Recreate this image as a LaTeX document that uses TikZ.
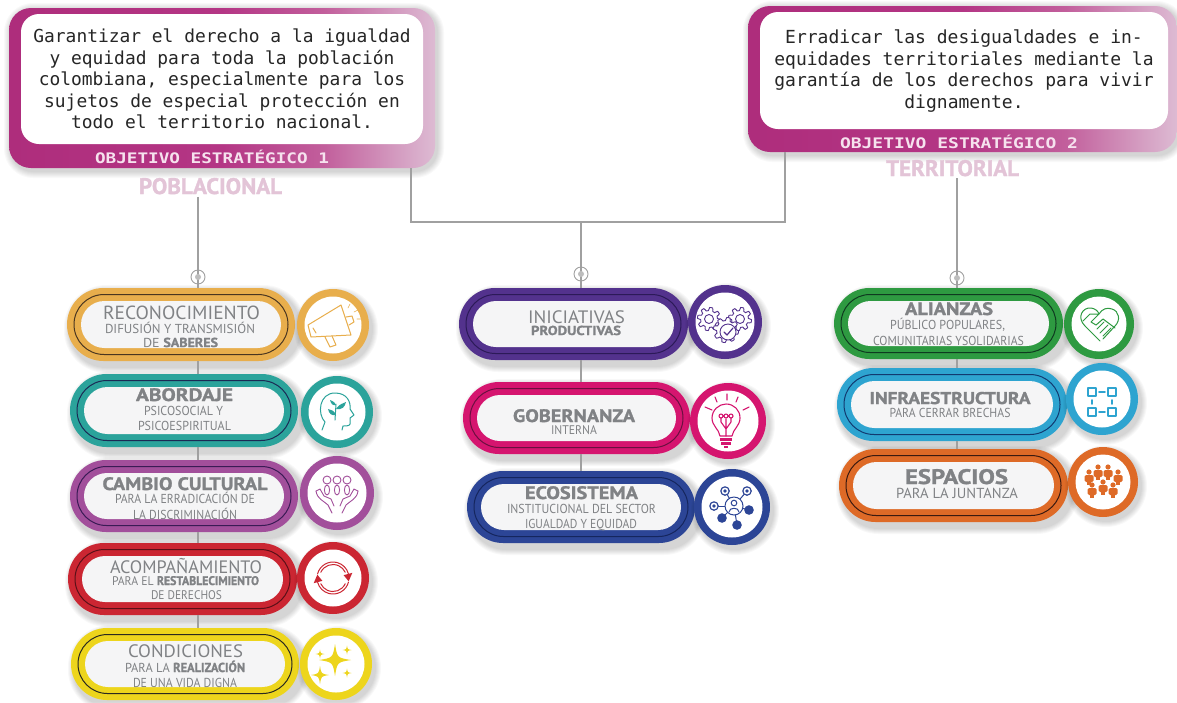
\documentclass[tikz,border=0pt]{standalone}
\usepackage{fontspec}
\usepackage{graphicx}
\setmainfont{PT Sans}
\newfontfamily\monof{DejaVu Sans Mono}
\usetikzlibrary{shapes.misc,calc}
\definecolor{cReco}{HTML}{E8AE4C}\definecolor{dReco}{HTML}{4A3620}
\definecolor{cAbor}{HTML}{2BA39B}\definecolor{dAbor}{HTML}{1B2A55}
\definecolor{cCamb}{HTML}{A24F9B}\definecolor{dCamb}{HTML}{3A1B55}
\definecolor{cAcom}{HTML}{CB2632}\definecolor{dAcom}{HTML}{5B1018}
\definecolor{cCond}{HTML}{EDD51C}\definecolor{dCond}{HTML}{2A2A20}
\definecolor{cInic}{HTML}{53328D}\definecolor{dInic}{HTML}{2C1A58}
\definecolor{cGobe}{HTML}{D5156F}\definecolor{dGobe}{HTML}{6B1040}
\definecolor{cEcos}{HTML}{2C4596}\definecolor{dEcos}{HTML}{15265E}
\definecolor{cAlia}{HTML}{2E9A41}\definecolor{dAlia}{HTML}{0F3A20}
\definecolor{cInfr}{HTML}{2EA4D0}\definecolor{dInfr}{HTML}{123A70}
\definecolor{cEspa}{HTML}{DE6A27}\definecolor{dEspa}{HTML}{3B1A10}
\definecolor{txtgray}{HTML}{808285}
\definecolor{conngray}{HTML}{A0A0A0}
\definecolor{pinklab}{HTML}{E3C4D7}
\definecolor{objlab}{HTML}{F6E2EE}
\definecolor{pillwhite}{HTML}{F5F5F6}
\definecolor{sA}{HTML}{AE2D7C}\definecolor{sB}{HTML}{B43685}\definecolor{sC}{HTML}{C25F9C}\definecolor{sD}{HTML}{DDBBD3}
\pgfdeclarehorizontalshading{boxshade}{100bp}{
  color(0bp)=(sA);color(25bp)=(sA);color(50bp)=(sB);
  color(62bp)=(sC);color(75bp)=(sD);color(100bp)=(sD)}
\newcommand{\hv}[1]{{\bfseries\addfontfeature{FakeBold=1.3}#1}}
\newsavebox\fitbox
\newcounter{txtline}
% one line of text, centred on x, on the given baseline, set to an exact width
\newcommand{\lbl}[6][txtgray]{%
  \stepcounter{txtline}%
  \node[anchor=base,inner sep=0pt,outer sep=0pt,text=#1,name=tx\arabic{txtline}] at (#2,#3)
    {\sbox\fitbox{\fontsize{#5}{#5}\selectfont #6}%
     \pgfmathsetmacro{\fitscale}{#4/\the\wd\fitbox}%
     \scalebox{\fitscale}[1]{\usebox\fitbox}};}
\newcommand{\softshade}[4]{%
  \foreach \k in {1,...,6}{%
    \pgfmathsetmacro{\rr}{(#4-#2)/2+\k}%
    \fill[black,opacity=.028,rounded corners=\rr pt]
      ({#1+3-\k},{#2+3-\k}) rectangle ({#3+5+\k},{#4+6+\k});}}
\newcommand{\boxshadow}[4]{%
  \foreach \k in {1,...,7}{%
    \pgfmathsetmacro{\rr}{22+\k}%
    \fill[black,opacity=.025,rounded corners=\rr pt]
      ({#1+2-\k},{#2+2-\k}) rectangle ({#3+2+\k},{#4+3+\k});}}
\newcommand{\pillbox}[7]{%
  \softshade{#2}{#3}{#4}{#5}%
  \node[pillshape,fill=#6,minimum width={(#4-#2)*1pt},minimum height={(#5-#3)*1pt},name=#1]
    at ({(#2+#4)/2},{(#3+#5)/2}) {};
  \node[pillshape,draw=#7,line width=1pt,minimum width={(#4-#2-14)*1pt},minimum height={(#5-#3-13)*1pt},name=#1-ring]
    at ({(#2+#4)/2},{(#3+#5)/2}) {};
  \node[pillshape,fill=pillwhite,minimum width={(#4-#2-28)*1pt},minimum height={(#5-#3-26)*1pt},name=#1-core]
    at ({(#2+#4)/2},{(#3+#5)/2}) {};}
\newcommand{\badge}[5]{%
  \foreach \k in {1,...,6}{%
    \fill[black,opacity=.028] ({#2+3},{#3+4}) circle ({(#4+\k)*1pt});}
  \node[circle,fill=#5,minimum size={2*#4*1pt},inner sep=0pt,outer sep=0pt,name=#1] at (#2,#3) {};
  \node[circle,fill=white,minimum size={(2*#4-15)*1pt},inner sep=0pt,outer sep=0pt,name=#1-in] at (#2,#3) {};}
\newcommand{\gearshape}[4]{%
  \draw[#4] plot[samples=97,domain=0:360,variable=\t]
    ({#1+(#3+1.6*sign(sin(8*\t)))*cos(\t)},{#2+(#3+1.6*sign(sin(8*\t)))*sin(\t)}) -- cycle;}
\newcommand{\spark}[3]{%
  \fill ({#1-#3},#2) .. controls ({#1-.14*#3},{#2-.14*#3}) .. (#1,{#2-#3})
        .. controls ({#1+.14*#3},{#2-.14*#3}) .. ({#1+#3},#2)
        .. controls ({#1+.14*#3},{#2+.14*#3}) .. (#1,{#2+#3})
        .. controls ({#1-.14*#3},{#2+.14*#3}) .. cycle;}
\newcommand{\person}[2]{%
  \fill (#1,{#2-4}) circle (2.6pt);
  \fill[rounded corners=1.5pt] ({#1-4.5},{#2-1}) rectangle ({#1+4.5},{#2+6});
  \fill ({#1-2},{#2+5}) rectangle ({#1+2},{#2+9});}
\tikzset{
  pillshape/.style={rounded rectangle,inner sep=0pt,outer sep=0pt},
  conn/.style={draw=conngray,line width=1.2pt},
  markring/.style={circle,draw=conngray,line width=.9pt,minimum size=14pt,inner sep=0pt,outer sep=0pt},
  markdot/.style={circle,fill=conngray!70,minimum size=6pt,inner sep=0pt,outer sep=0pt},
  icon/.style={line width=#1,line cap=round,line join=round},
  icon/.default=1pt
}
\begin{document}
\begin{tikzpicture}[x=1pt,y=-1pt]
\useasboundingbox (0,0) rectangle (1177,702);
\fill[white] (0,0) rectangle (1177,702);

% ---------- objective boxes
\boxshadow{9}{8}{435}{168}
\boxshadow{748}{6}{1177}{152}
\node[rectangle,rounded corners=22pt,inner sep=0pt,outer sep=0pt,shade,shading=boxshade,minimum width=426pt,minimum height=160pt,name=box1] at (222,88) {};
\node[rectangle,rounded corners=18pt,fill=white,inner sep=0pt,outer sep=0pt,minimum width=402pt,minimum height=130pt,name=box1in] at (222,79) {};
\node[rectangle,rounded corners=22pt,inner sep=0pt,outer sep=0pt,shade,shading=boxshade,minimum width=429pt,minimum height=146pt,name=box2] at (962.5,79) {};
\node[rectangle,rounded corners=18pt,fill=white,inner sep=0pt,outer sep=0pt,minimum width=408pt,minimum height=117pt,name=box2in] at (964,70.5) {};

\node[align=center,inner sep=0pt,text=black!85,font=\monof\fontsize{17.9}{21.5}\selectfont,name=goal1] at (222,79)
  {Garantizar el derecho a la igualdad\\y equidad para toda la población\\colombiana, especialmente para los\\sujetos de especial protección en\\todo el territorio nacional.};
\node[align=center,inner sep=0pt,text=black!85,font=\monof\fontsize{18}{21.7}\selectfont,name=goal2] at (964,71)
  {Erradicar las desigualdades e in-\\equidades territoriales mediante la\\garantía de los derechos para vivir\\dignamente.};

\lbl[objlab]{212}{163}{234}{14.5}{\monof\bfseries OBJETIVO ESTRATÉGICO 1}
\lbl[objlab]{959}{148}{238}{14.5}{\monof\bfseries OBJETIVO ESTRATÉGICO 2}
\node[anchor=base,inner sep=0pt,outer sep=2.5pt,text=pinklab,name=pob] at (210.5,194)
  {\sbox\fitbox{\fontsize{22.5}{22.5}\selectfont\hv{POBLACIONAL}}\pgfmathsetmacro{\fitscale}{143/\the\wd\fitbox}\scalebox{\fitscale}[1]{\usebox\fitbox}};
\node[anchor=base,inner sep=0pt,outer sep=2pt,text=pinklab,name=ter] at (952.5,176)
  {\sbox\fitbox{\fontsize{22.5}{22.5}\selectfont\hv{TERRITORIAL}}\pgfmathsetmacro{\fitscale}{133/\the\wd\fitbox}\scalebox{\fitscale}[1]{\usebox\fitbox}};

% ---------- pills and badges
\pillbox{reco}{67}{288}{295}{361}{cReco}{dReco}
\pillbox{abor}{70}{374}{298}{447}{cAbor}{dAbor}
\pillbox{camb}{70}{460}{298}{532}{cCamb}{dCamb}
\pillbox{acom}{68}{543}{297}{615}{cAcom}{dAcom}
\pillbox{cond}{71}{628}{299}{700}{cCond}{dCond}
\pillbox{inic}{459}{288}{688}{360}{cInic}{dInic}
\pillbox{gobe}{463}{382}{690}{454}{cGobe}{dGobe}
\pillbox{ecos}{467}{471}{695}{543}{cEcos}{dEcos}
\pillbox{alia}{834}{288}{1063}{359}{cAlia}{dAlia}
\pillbox{infr}{837}{368}{1067}{441}{cInfr}{dInfr}
\pillbox{espa}{839}{449}{1068}{522}{cEspa}{dEspa}

\badge{breco}{333}{325}{36}{cReco}
\badge{babor}{337}{412}{36}{cAbor}
\badge{bcamb}{337}{493}{37}{cCamb}
\badge{bacom}{333}{578}{36}{cAcom}
\badge{bcond}{336}{664}{36}{cCond}
\badge{binic}{725}{322}{37}{cInic}
\badge{bgobe}{728}{421}{38}{cGobe}
\badge{becos}{732}{507}{38}{cEcos}
\badge{balia}{1099}{324}{35}{cAlia}
\badge{binfr}{1102}{399}{36}{cInfr}
\badge{bespa}{1103}{482}{35}{cEspa}

% ---------- connectors
\node[markring,name=mL] at (198,277) {};
\node[markring,name=mM] at (581,274) {};
\node[markring,name=mR] at (957,278) {};
\coordinate (j1) at (411,222);
\coordinate (j2) at (785,222);
\draw[conn] (mL |- pob.south) -- (mL.center) -- (mL |- reco.north);
\draw[conn] (mL |- reco.south) -- (mL |- abor.north);
\draw[conn] (mL |- abor.south) -- (mL |- camb.north);
\draw[conn] (mL |- camb.south) -- (mL |- acom.north);
\draw[conn] (mL |- acom.south) -- (mL |- cond.north);
\draw[conn] (j1 |- box1.south) -- (j1) -- (j2) -- (j2 |- box2.south);
\draw[conn] (mM |- j1) -- (mM.center) -- (mM |- inic.north);
\draw[conn] (mM |- inic.south) -- (mM |- gobe.north);
\draw[conn] (mM |- gobe.south) -- (mM |- ecos.north);
\draw[conn] (mR |- ter.south) -- (mR.center) -- (mR |- alia.north);
\draw[conn] (mR |- alia.south) -- (mR |- infr.north);
\draw[conn] (mR |- infr.south) -- (mR |- espa.north);
\node[markdot,name=mLd] at (mL) {};
\node[markdot,name=mMd] at (mM) {};
\node[markdot,name=mRd] at (mR) {};

% ---------- pill texts
\lbl{181.5}{319.5}{157}{19}{RECONOCIMIENTO}
\lbl{180}{333}{150}{13}{DIFUSIÓN Y TRANSMISIÓN}
\lbl{180.5}{347}{75}{13}{DE \hv{SABERES}}
\lbl{184.5}{401}{97}{18}{\hv{ABORDAJE}}
\lbl{183.5}{415}{79}{13}{PSICOSOCIAL Y}
\lbl{184.5}{430}{93}{13}{PSICOESPIRITUAL}
\lbl{185}{490}{165}{18}{\hv{CAMBIO CULTURAL}}
\lbl{185}{503}{140}{13}{PARA LA ERRADICACIÓN DE}
\lbl{185}{519}{104}{13}{LA DISCRIMINACIÓN}
\lbl{186}{573}{152}{18}{ACOMPAÑAMIENTO}
\lbl{185.5}{585}{147}{12.5}{PARA EL \hv{RESTABLECIMIENTO}}
\lbl{186.5}{599}{71}{12.5}{DE DERECHOS}
\lbl{185.5}{657}{115}{18}{CONDICIONES}
\lbl{185}{672}{120}{13}{PARA LA \hv{REALIZACIÓN}}
\lbl{185}{687}{104}{13}{DE UNA VIDA DIGNA}
\lbl{576.5}{323}{97}{18}{INICIATIVAS}
\lbl{576}{335}{90}{13}{\hv{PRODUCTIVAS}}
\lbl{574}{422}{122}{18}{\hv{GOBERNANZA}}
\lbl{574}{434}{46}{12.5}{INTERNA}
\lbl{581.5}{499}{113}{18}{\hv{ECOSISTEMA}}
\lbl{581.5}{513}{149}{13}{INSTITUCIONAL DEL SECTOR}
\lbl{581}{528}{112}{13}{IGUALDAD Y EQUIDAD}
\lbl{949}{315}{88}{18}{\hv{ALIANZAS}}
\lbl{947.5}{329}{115}{13}{PÚBLICO POPULARES,}
\lbl{948.5}{345}{151}{13}{COMUNITARIAS YSOLIDARIAS}
\lbl{950}{404}{161}{17}{\hv{INFRAESTRUCTURA}}
\lbl{950}{417}{121}{13}{PARA CERRAR BRECHAS}
\lbl{956.5}{484}{103}{21}{\hv{ESPACIOS}}
\lbl{957}{498}{122}{14.5}{PARA LA JUNTANZA}

% ---------- icons
% megaphone
\begin{scope}[shift={(333,325)},draw=cReco,fill=cReco,icon=1pt]
  \draw (-25,0) -- (8,-20) -- (18,10) -- (-22,12) -- cycle;
  \draw (-8,12) -- (-3,22) -- (3,20) -- (-1,11);
  \draw (-20,3) -- (-17,8);
  \draw (13,-8) -- (19,-9) -- (21,-3) -- (16,0);
  \draw[line width=.6pt] (15,-17) -- (17,-21) (21,-13) -- (25,-15) (24,-6) -- (28,-6);
\end{scope}
% head with sprout
\begin{scope}[shift={(337,412)},draw=cAbor,fill=cAbor,icon=1pt]
  \draw (-15,18) -- (-12,10) .. controls (-20,2) and (-18,-19) .. (-2,-19)
        .. controls (10,-19) and (14,-10) .. (13,-3) -- (17,3) -- (13,6) -- (13,12)
        .. controls (13,14) and (8,14) .. (6,14) -- (5,18);
  \draw (-2,8) -- (-1,-8);
  \fill (-1,-3) .. controls (3,-9) and (6,-8) .. (9,-10) .. controls (8,-5) and (5,-2) .. cycle;
  \fill (-1,3) .. controls (-3,-2) and (-6,-2) .. (-9,-3) .. controls (-8,2) and (-5,4) .. cycle;
  \fill (-1,-7) .. controls (-3,-11) and (-5,-11) .. (-7,-12) .. controls (-6,-8) and (-4,-6) .. cycle;
\end{scope}
% people held in hands
\begin{scope}[shift={(337,493)},draw=cCamb,icon=.9pt]
  \foreach \p in {-10,0,10}{
    \draw (\p,-13) circle (4pt);
    \draw (\p,-3) ellipse (2.6pt and 5pt);}
  \draw (-21,-2) .. controls (-20,6) and (-13,8) .. (-9,12) -- (-5,20);
  \draw (-21,-2) -- (-17,-4) -- (-13,3) -- (-6,6) -- (-3,13);
  \draw (21,-2) .. controls (20,6) and (13,8) .. (9,12) -- (5,20);
  \draw (21,-2) -- (17,-4) -- (13,3) -- (6,6) -- (3,13);
\end{scope}
% refresh arrows
\begin{scope}[shift={(333,578)},draw=cAcom,fill=cAcom,icon=1pt]
  \draw (165:16pt) arc[start angle=165,end angle=15,radius=16pt];
  \draw (155:13.5pt) arc[start angle=155,end angle=25,radius=13.5pt];
  \fill (15:20pt) -- (15:11pt) -- (-12:16pt) -- cycle;
  \draw (-15:16pt) arc[start angle=-15,end angle=-165,radius=16pt];
  \draw (-25:13.5pt) arc[start angle=-25,end angle=-155,radius=13.5pt];
  \fill (195:20pt) -- (195:11pt) -- (168:16pt) -- cycle;
\end{scope}
% sparkles
\begin{scope}[shift={(336,664)},fill=cCond]
  \spark{-1}{-4}{16}
  \spark{-16}{11}{9}
  \spark{-16}{-10}{4.5}
  \spark{11}{-14}{4.5}
  \spark{11}{9}{4.5}
\end{scope}
% gears
\begin{scope}[shift={(725,322)},draw=cInic,icon=.9pt]
  \gearshape{-16}{-3}{10}{}
  \gearshape{15}{-3}{10}{}
  \draw (-16,-3) circle (4.5pt);
  \draw (15,-3) circle (4.5pt);
  \gearshape{1}{8}{11}{fill=white}
  \draw[fill=white] (3,10) circle (8pt);
  \draw[line width=1.2pt] (-1,10) -- (2,13) -- (8,6);
\end{scope}
% light bulb
\begin{scope}[shift={(728,421)},draw=cGobe,fill=cGobe,icon=1.1pt]
  \draw (-8,15) .. controls (-9,8) and (-16,5) .. (-16,-3) .. controls (-16,-11) and (-9,-17) .. (-2,-17)
        .. controls (6,-17) and (12,-11) .. (12,-3) .. controls (12,5) and (5,8) .. (4,15) -- cycle;
  \draw (-2,15) -- (-2,-2) (-2,8) -- (-7,1) -- (-7,-3) (-2,8) -- (3,1) -- (3,-3);
  \draw (-2,-5) circle (2pt) (-7,-5) circle (2pt) (3,-5) circle (2pt);
  \fill (-8,17) rectangle (4,19.5);
  \fill (-7,21) rectangle (3,23.5);
  \fill (-4,25) rectangle (0,26.5);
  \draw (-23,-14) -- (-16,-11) (-13,-24) -- (-11,-19) (-1,-27) -- (-1,-21) (10,-24) -- (8,-19) (21,-14) -- (15,-11);
\end{scope}
% network
\begin{scope}[shift={(732,507)},draw=cEcos,fill=cEcos,icon=1pt]
  \foreach \a/\b in {-7/-16,15/-16,-18/-1,17/3,-10/11,5/18}{
    \draw (2,-1) -- (\a,\b);}
  \draw[fill=white] (2,-1) circle (9pt);
  \draw (2,-4) circle (2.8pt);
  \draw (-3,5) .. controls (-3,0) and (7,0) .. (7,5);
  \foreach \a/\b in {-7/-16,15/-16,-18/-1}{
    \draw[fill=white,line width=1.2pt] (\a,\b) circle (4.2pt);
    \fill (\a,\b) circle (1.8pt);}
  \foreach \a/\b in {17/3,-10/11,5/18}{
    \fill (\a,\b) circle (4.8pt);}
\end{scope}
% handshake heart
\begin{scope}[shift={(1099,324)},draw=cAlia,icon=1pt]
  \draw (1,17) -- (-14,2) .. controls (-23,-7) and (-16,-17) .. (-8,-16)
        .. controls (-4,-15.5) and (-1,-13) .. (0,-10) .. controls (3,-15) and (8,-17) .. (13,-15)
        .. controls (20,-13) and (22,-4) .. (16,2) -- (4,15);
  \draw (-16,-3) -- (-9,-10) -- (0,-10) -- (-8,-2) -- (-3,1) -- (4,-5) -- (16,4);
  \draw (9,1) -- (1,9) (12,4) -- (4,12) (5,-2) -- (-2,5);
\end{scope}
% connected squares
\begin{scope}[shift={(1102,399)},draw=cInfr,icon=1.6pt]
  \draw (-14,-11) rectangle (-6,-3);
  \draw (6,-11) rectangle (14,-3);
  \draw (-14,9) rectangle (-6,17);
  \draw (6,9) rectangle (14,17);
  \draw (-3,-7) -- (3,-7) (-3,13) -- (3,13);
  \draw (-10,1) -- (-10,5) (10,1) -- (10,5);
\end{scope}
% assembly of people
\begin{scope}[shift={(1103,482)},fill=cEspa]
  \person{-14}{-6}
  \person{-5}{-11}
  \person{5}{-11}
  \person{15}{-6}
  \person{-11}{7}
  \person{0}{4}
  \person{10}{7}
\end{scope}
\end{tikzpicture}
\end{document}
